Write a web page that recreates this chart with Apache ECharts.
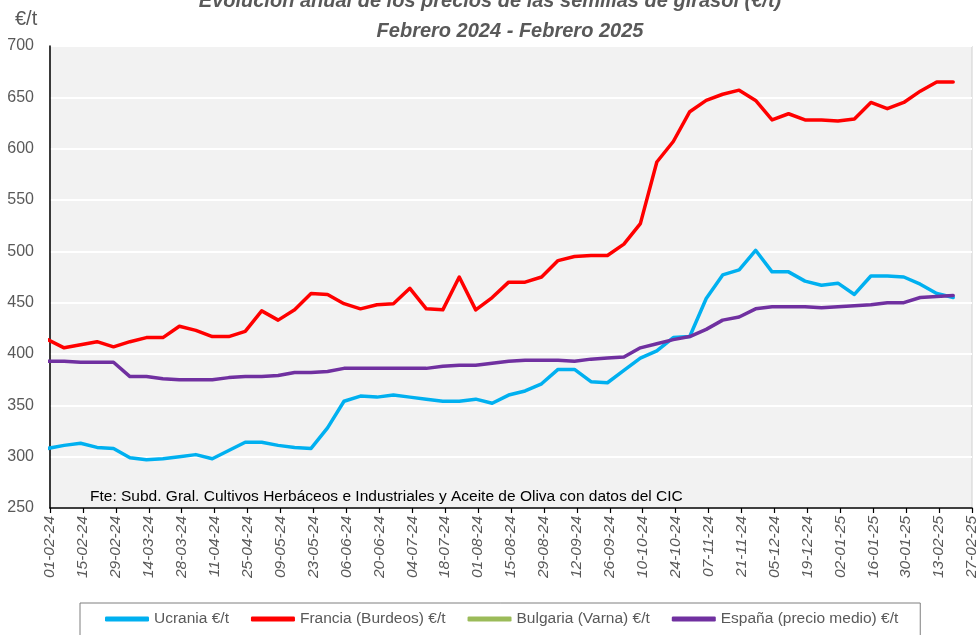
<!DOCTYPE html>
<html>
<head>
<meta charset="utf-8">
<script src="https://cdn.jsdelivr.net/npm/echarts@6/dist/echarts.min.js"></script>
<style>
html,body{margin:0;padding:0;background:#fff;}
#chart{width:980px;height:635px;}
</style>
</head>
<body>
<div id="chart"></div>
<script>
// Weekly quotation dates (dd-mm-yy)
const fechas = [
  "31-01-24","07-02-24","14-02-24","21-02-24","28-02-24","06-03-24","13-03-24","20-03-24",
  "27-03-24","03-04-24","10-04-24","17-04-24","24-04-24","01-05-24","08-05-24","15-05-24",
  "22-05-24","29-05-24","05-06-24","12-06-24","19-06-24","26-06-24","03-07-24","10-07-24",
  "17-07-24","24-07-24","31-07-24","07-08-24","14-08-24","21-08-24","28-08-24","04-09-24",
  "11-09-24","18-09-24","25-09-24","02-10-24","09-10-24","16-10-24","23-10-24","30-10-24",
  "06-11-24","13-11-24","20-11-24","27-11-24","04-12-24","11-12-24","18-12-24","25-12-24",
  "01-01-25","08-01-25","15-01-25","22-01-25","29-01-25","05-02-25","12-02-25","19-02-25"
];
const ucrania = [
  308,311,313,309,308,299,297,298,300,302,298,306,314,314,311,309,
  308,328,354,359,358,360,358,356,354,354,356,352,360,364,371,385,
  385,373,372,384,396,403,416,417,454,477,482,501,480,480,471,467,
  469,458,476,476,475,468,459,455
];
const francia = [
  414,406,409,412,407,412,416,416,427,423,417,417,422,442,433,443,
  459,458,449,444,448,449,464,444,443,475,443,455,470,470,475,491,
  495,496,496,507,527,587,607,636,647,653,657,647,628,634,628,628,
  627,629,645,639,645,656,665,665
];
const bulgaria = []; // no values shown in the period
const espana = [
  393,393,392,392,392,378,378,376,375,375,375,377,378,378,379,382,
  382,383,386,386,386,386,386,386,388,389,389,391,393,394,394,394,
  393,395,396,397,406,410,414,417,424,433,436,444,446,446,446,445,
  446,447,448,450,450,455,456,457
];
const nombres = ["Ucrania €/t","Francia (Burdeos) €/t","Bulgaria (Varna) €/t","España (precio medio) €/t"];
const colores = ["#00B0F0","#FF0000","#9BBB59","#7030A0"];
const ejeInicio = "01-02-24";
const ejeFin = "27-02-25";
const yMin = 250, yMax = 700, yPaso = 50, xPaso = 14;

function toUTC(s){const p=s.split("-");return Date.UTC(2000+(+p[2]),(+p[1])-1,+p[0]);}
const DAY=86400000;
const base=toUTC(ejeInicio);
function dayOff(s){return Math.round((toUTC(s)-base)/DAY);}
function fmt(v){const d=new Date(base+v*DAY);const dd=String(d.getUTCDate()).padStart(2,"0");const mm=String(d.getUTCMonth()+1).padStart(2,"0");const yy=String(d.getUTCFullYear()%100).padStart(2,"0");return dd+"-"+mm+"-"+yy;}
function pts(arr){return arr.map((v,i)=>[dayOff(fechas[i]),v]);}

const FONT='"Liberation Sans", Arial, sans-serif';
const GREY='#595959';
const chart=echarts.init(document.getElementById('chart'),null,{renderer:'canvas'});
const seriesData=[ucrania,francia,bulgaria,espana];
chart.setOption({
  animation:false,
  backgroundColor:'#FFFFFF',
  textStyle:{fontFamily:FONT},
  grid:{left:50,right:3,top:46,bottom:127,show:true,backgroundColor:'#F2F2F2',borderColor:'#D0D0D0',borderWidth:1},
  xAxis:{
    type:'value',min:0,max:dayOff(ejeFin),interval:xPaso,
    axisLine:{show:true,onZero:false,lineStyle:{color:'#000',width:1.5}},
    axisTick:{show:true,length:5,lineStyle:{color:'#000',width:1.2}},
    splitLine:{show:false},
    axisLabel:{rotate:90,margin:8,color:GREY,fontSize:15.5,fontStyle:'italic',fontFamily:FONT,formatter:fmt,showMinLabel:true,showMaxLabel:true}
  },
  yAxis:{
    type:'value',min:yMin,max:yMax,interval:yPaso,
    axisLine:{show:true,lineStyle:{color:'#000',width:1.5}},
    axisTick:{show:false},
    splitLine:{show:true,lineStyle:{color:'#FFFFFF',width:2}},
    axisLabel:{margin:16,color:GREY,fontSize:16,fontFamily:FONT}
  },
  legend:{
    left:80,top:603,orient:'horizontal',
    padding:[8,22,20,25],itemGap:22,itemWidth:44,itemHeight:5,
    icon:'roundRect',
    borderColor:'#7F7F7F',borderWidth:1,
    textStyle:{color:GREY,fontSize:15.5,fontFamily:FONT},
    data:nombres
  },
  graphic:[
    {type:'text',left:'center',top:-9,style:{text:'Evolución anual de los precios de las semillas de girasol (€/t)',fill:GREY,font:'italic bold 20px '+FONT}},
    {type:'text',x:510,y:31,style:{text:'Febrero 2024 - Febrero 2025',fill:GREY,font:'italic bold 20px '+FONT,textAlign:'center',textVerticalAlign:'middle'}},
    {type:'text',x:15,y:19,style:{text:'€/t',fill:GREY,font:'20px '+FONT,textVerticalAlign:'middle'}},
    {type:'text',x:90,y:497,z:10,style:{text:'Fte: Subd. Gral. Cultivos Herbáceos e Industriales y Aceite de Oliva con datos del CIC',fill:'#000',font:'15.5px '+FONT,textVerticalAlign:'middle'}}
  ],
  series:seriesData.map((arr,i)=>({
    name:nombres[i],type:'line',data:pts(arr),showSymbol:false,symbol:'none',clip:true,
    lineStyle:{color:colores[i],width:3.5,cap:'round',join:'round'},
    itemStyle:{color:colores[i]},
    z:[2,3,1,4][i]
  }))
});
</script>
</body>
</html>
